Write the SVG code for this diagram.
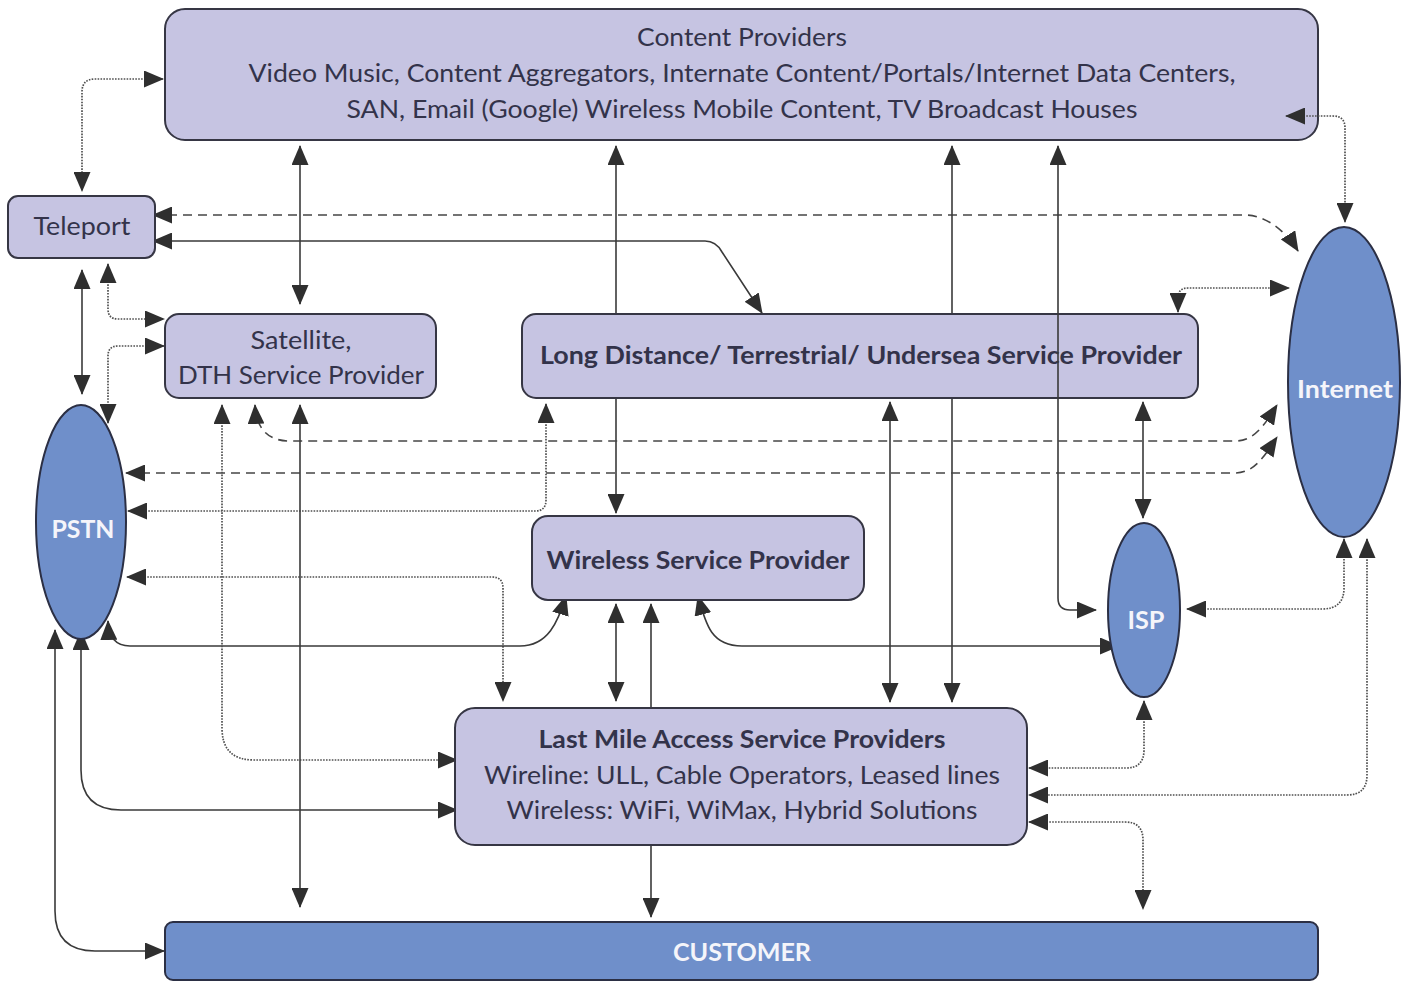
<svg xmlns="http://www.w3.org/2000/svg" width="1409" height="982" viewBox="0 0 1409 982">
  <defs>
    <marker id="ah" viewBox="0 0 20 17" refX="19" refY="8.5" markerWidth="20" markerHeight="17" markerUnits="userSpaceOnUse" orient="auto-start-reverse">
      <path d="M0,0 L20,8.5 L0,17 z" fill="#2f2f2f"/>
    </marker>
    <style>
      .box { fill: #c6c4e2; stroke: #363644; stroke-width: 2; }
      .blue { fill: #6f8fca; stroke: #2b2f44; stroke-width: 2; }
      .t { font-family: Lato, "Open Sans", "Liberation Sans", sans-serif; font-size: 25px; fill: #33334a; text-anchor: middle; dominant-baseline: central; }
      .b { font-weight: bold; }
      .w { fill: #f5f5fa; font-weight: bold; }
      .solid { fill: none; stroke: #3a3a3a; stroke-width: 1.6; }
      .dot { fill: none; stroke: #505050; stroke-width: 1.7; stroke-dasharray: 1.6 1.3; }
      .dash { fill: none; stroke: #454545; stroke-width: 1.6; stroke-dasharray: 9 6; }
      .both { marker-start: url(#ah); marker-end: url(#ah); }
      .end { marker-end: url(#ah); }
    </style>
  </defs>

  <rect width="1409" height="982" fill="#ffffff"/>

  <!-- links running underneath the boxes -->
  <g id="connectors">
    <!-- Content Providers <-> Teleport -->
    <path class="dot both" d="M163,79 H95 Q82,79 82,92 V191"/>
    <!-- Teleport <-> Internet -->
    <path class="dash both" d="M153,215 H1245 C1265,215 1285,230 1298,251"/>
    <!-- Teleport <-> Long Distance -->
    <path class="solid both" d="M153,241 H705 Q716,241 722,252 L762,313"/>
    <!-- Content Providers <-> Satellite -->
    <path class="solid both" d="M300,146 V304"/>
    <!-- Teleport <-> Satellite -->
    <path class="dot both" d="M108,264 V309 Q108,319 118,319 H164"/>
    <!-- Teleport <-> PSTN -->
    <path class="solid both" d="M82,270 V394"/>
    <!-- Satellite <-> PSTN -->
    <path class="dot both" d="M164,346 H118 Q108,346 108,356 V423"/>
    <!-- Content Providers <-> Wireless Service Provider -->
    <path class="solid both" d="M616,146 V513"/>
    <!-- Content Providers <-> Last Mile -->
    <path class="solid both" d="M952,146 V702"/>
    <!-- Long Distance <-> Internet -->
    <path class="dot both" d="M1178,312 V298 Q1178,288 1188,288 H1289"/>
    <!-- Satellite <-> Internet -->
    <path class="dash both" d="M255,405 Q257,441 290,441 H1235 C1255,441 1265,424 1277,405"/>
    <!-- PSTN <-> Internet -->
    <path class="dash both" d="M126,473 H1235 C1255,473 1265,455 1277,437"/>
    <!-- PSTN <-> Long Distance -->
    <path class="dot both" d="M128,511 H535 Q546,511 546,500 V404"/>
    <!-- PSTN <-> Last Mile -->
    <path class="dot both" d="M127,577 H492 Q503,577 503,588 V701"/>
    <!-- PSTN <-> Wireless Service Provider -->
    <path class="solid both" d="M108,621 Q109,646 130,646 H520 C548,646 558,622 566,596"/>
    <!-- Satellite <-> Last Mile -->
    <path class="dot both" d="M222,405 V728 Q222,760 254,760 H457"/>
    <!-- Satellite <-> Customer -->
    <path class="solid both" d="M300,405 V907"/>
    <!-- Wireless Service Provider <-> Last Mile -->
    <path class="solid both" d="M616,604 V701"/>
    <!-- Last Mile -> Wireless Service Provider -->
    <path class="solid end" d="M651,708 V604"/>
    <!-- Wireless Service Provider <-> ISP -->
    <path class="solid both" d="M698,596 C706,626 712,646 742,646 H1119"/>
    <!-- Long Distance <-> Last Mile -->
    <path class="solid both" d="M890,402 V702"/>
    <!-- Long Distance <-> ISP -->
    <path class="solid both" d="M1143,402 V518"/>
    <!-- ISP <-> Internet -->
    <path class="dot both" d="M1187,609 H1322 Q1344,609 1344,588 V539"/>
    <!-- ISP <-> Last Mile -->
    <path class="dot both" d="M1144,701 V750 Q1144,768 1126,768 H1029"/>
    <!-- Internet <-> Last Mile -->
    <path class="dot both" d="M1367,539 V775 Q1367,795 1347,795 H1029"/>
    <!-- Last Mile <-> Customer -->
    <path class="dot both" d="M1029,822 H1125 Q1143,822 1143,840 V909"/>
    <!-- Last Mile -> Customer -->
    <path class="solid end" d="M651,845 V917"/>
    <!-- PSTN <-> Last Mile (outer loop) -->
    <path class="solid both" d="M81,631 V770 Q81,810 121,810 H457"/>
    <!-- PSTN <-> Customer -->
    <path class="solid both" d="M55,630 V911 Q55,951 95,951 H164"/>
  </g>

  <g id="content-providers">
    <rect class="box" x="165" y="9" width="1153" height="131" rx="20"/>
    <text class="t" x="742" y="36" textLength="210" lengthAdjust="spacingAndGlyphs">Content Providers</text>
    <text class="t" x="742" y="72" textLength="987" lengthAdjust="spacingAndGlyphs">Video Music, Content Aggregators, Internate Content/Portals/Internet Data Centers,</text>
    <text class="t" x="742" y="108" textLength="791" lengthAdjust="spacingAndGlyphs">SAN, Email (Google) Wireless Mobile Content, TV Broadcast Houses</text>
  </g>

  <g id="teleport">
    <rect class="box" x="8" y="196" width="147" height="62" rx="10"/>
    <text class="t" x="82" y="225" textLength="97" lengthAdjust="spacingAndGlyphs">Teleport</text>
  </g>

  <g id="satellite">
    <rect class="box" x="165" y="314" width="271" height="84" rx="14"/>
    <text class="t" x="301" y="339" textLength="101" lengthAdjust="spacingAndGlyphs">Satellite,</text>
    <text class="t" x="301" y="374" textLength="246" lengthAdjust="spacingAndGlyphs">DTH Service Provider</text>
  </g>

  <g id="long-distance">
    <rect class="box" x="522" y="314" width="676" height="84" rx="14"/>
    <text class="t b" x="861" y="354" textLength="642" lengthAdjust="spacingAndGlyphs">Long Distance/ Terrestrial/ Undersea Service Provider</text>
  </g>

  <g id="wireless-sp">
    <rect class="box" x="532" y="516" width="332" height="84" rx="16"/>
    <text class="t b" x="698" y="559" textLength="303" lengthAdjust="spacingAndGlyphs">Wireless Service Provider</text>
  </g>

  <g id="last-mile">
    <rect class="box" x="455" y="708" width="572" height="137" rx="20"/>
    <text class="t b" x="742" y="738" textLength="407" lengthAdjust="spacingAndGlyphs">Last Mile Access Service Providers</text>
    <text class="t" x="742" y="774" textLength="516" lengthAdjust="spacingAndGlyphs">Wireline: ULL, Cable Operators, Leased lines</text>
    <text class="t" x="742" y="809" textLength="471" lengthAdjust="spacingAndGlyphs">Wireless: WiFi, WiMax, Hybrid Solutions</text>
  </g>

  <g id="customer">
    <rect class="blue" x="165" y="922" width="1153" height="58" rx="8"/>
    <text class="t w" x="742" y="951" textLength="138" lengthAdjust="spacingAndGlyphs">CUSTOMER</text>
  </g>

  <g id="pstn">
    <ellipse class="blue" cx="81" cy="522" rx="45" ry="117"/>
    <text class="t w" x="83" y="528" textLength="63" lengthAdjust="spacingAndGlyphs">PSTN</text>
  </g>

  <g id="internet">
    <ellipse class="blue" cx="1344" cy="382" rx="56" ry="155"/>
    <text class="t w" x="1345" y="388" textLength="96" lengthAdjust="spacingAndGlyphs">Internet</text>
  </g>

  <g id="isp">
    <ellipse class="blue" cx="1144" cy="610" rx="36" ry="87"/>
    <text class="t w" x="1146" y="619" textLength="37" lengthAdjust="spacingAndGlyphs">ISP</text>
  </g>

  <!-- links drawn over the boxes -->
  <g id="connectors-over">
    <!-- Content Providers <-> ISP -->
    <path class="solid both" d="M1058,146 V598 Q1058,610 1070,610 H1096"/>
    <!-- Content Providers <-> Internet -->
    <path class="dot both" d="M1286,116 H1333 Q1345,116 1345,128 V222"/>
  </g>
</svg>
